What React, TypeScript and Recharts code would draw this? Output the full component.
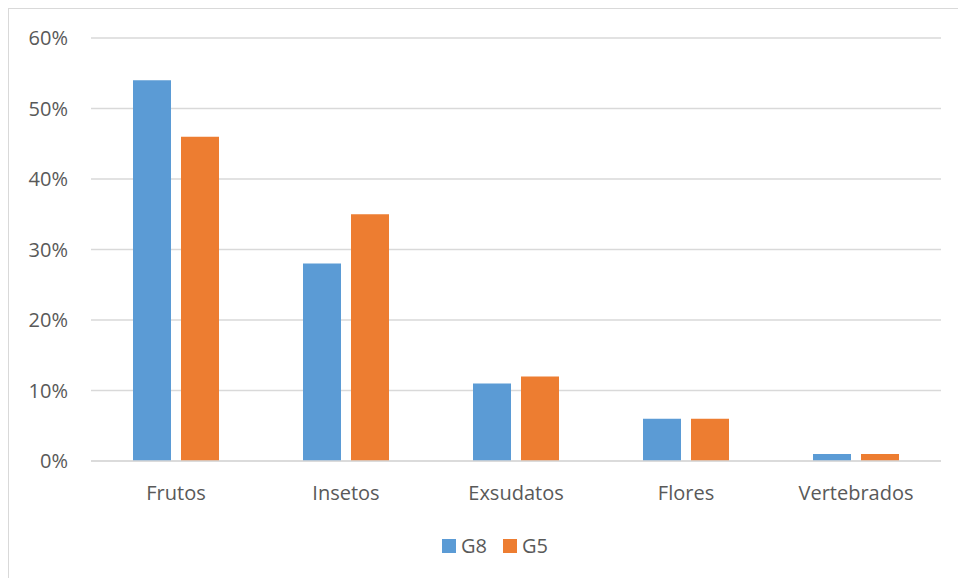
import React from 'react';
import { BarChart, Bar, XAxis, YAxis, CartesianGrid, Legend } from 'recharts';

// Diet composition per group (fraction of records)
const categories = ['Frutos', 'Insetos', 'Exsudatos', 'Flores', 'Vertebrados'];
const g8Values = [0.54, 0.28, 0.11, 0.06, 0.01];
const g5Values = [0.46, 0.35, 0.12, 0.06, 0.01];
const yTicks = [0, 0.1, 0.2, 0.3, 0.4, 0.5, 0.6];

const seriesList = [
  { key: 'G8', color: '#5B9BD5' },
  { key: 'G5', color: '#ED7D31' },
];

const data = categories.map((name, i) => ({ name, G8: g8Values[i], G5: g5Values[i] }));

const FONT = '"Open Sans", sans-serif';
const TEXT = '#595959';
const GRID = '#D9D9D9';

function LegendContent() {
  return (
    <div style={{ display: 'flex', justifyContent: 'center', lineHeight: '27px', paddingLeft: 40 }}>
      {seriesList.map((s, i) => (
        <div
          key={s.key}
          style={{
            display: 'flex',
            alignItems: 'center',
            marginRight: i < seriesList.length - 1 ? 16 : 0,
          }}
        >
          <span style={{ width: 14, height: 14, background: s.color, marginRight: 5, display: 'inline-block' }} />
          <span style={{ color: TEXT, fontSize: 20, fontFamily: FONT }}>{s.key}</span>
        </div>
      ))}
    </div>
  );
}

export default function App() {
  return (
    <div
      style={{
        position: 'absolute',
        left: 8,
        top: 8,
        width: 950,
        height: 570,
        borderLeft: `1px solid ${GRID}`,
        borderTop: `1px solid ${GRID}`,
        fontFamily: FONT,
        background: '#fff',
      }}
    >
      <BarChart
        width={949}
        height={569}
        data={data}
        margin={{ top: 29, right: 17, left: 0, bottom: 19 }}
        barSize={38}
        barGap={10}
      >
        <CartesianGrid vertical={false} stroke={GRID} strokeWidth={1.3} />
        <XAxis
          dataKey="name"
          height={71}
          axisLine={{ stroke: GRID, strokeWidth: 1.5 }}
          tickLine={false}
          tickSize={6}
          tickMargin={19}
          tick={{ fill: TEXT, fontSize: 20, fontFamily: FONT }}
          interval={0}
        />
        <YAxis
          width={82}
          domain={[0, 0.6]}
          ticks={yTicks}
          axisLine={false}
          tickLine={false}
          tickSize={6}
          tickMargin={17}
          tickFormatter={(v: number) => `${Math.round(v * 100)}%`}
          tick={{ fill: TEXT, fontSize: 20, fontFamily: FONT }}
        />
        <Legend verticalAlign="bottom" align="center" content={<LegendContent />} />
        {seriesList.map((s) => (
          <Bar key={s.key} dataKey={s.key} fill={s.color} isAnimationActive={false} />
        ))}
      </BarChart>
    </div>
  );
}
